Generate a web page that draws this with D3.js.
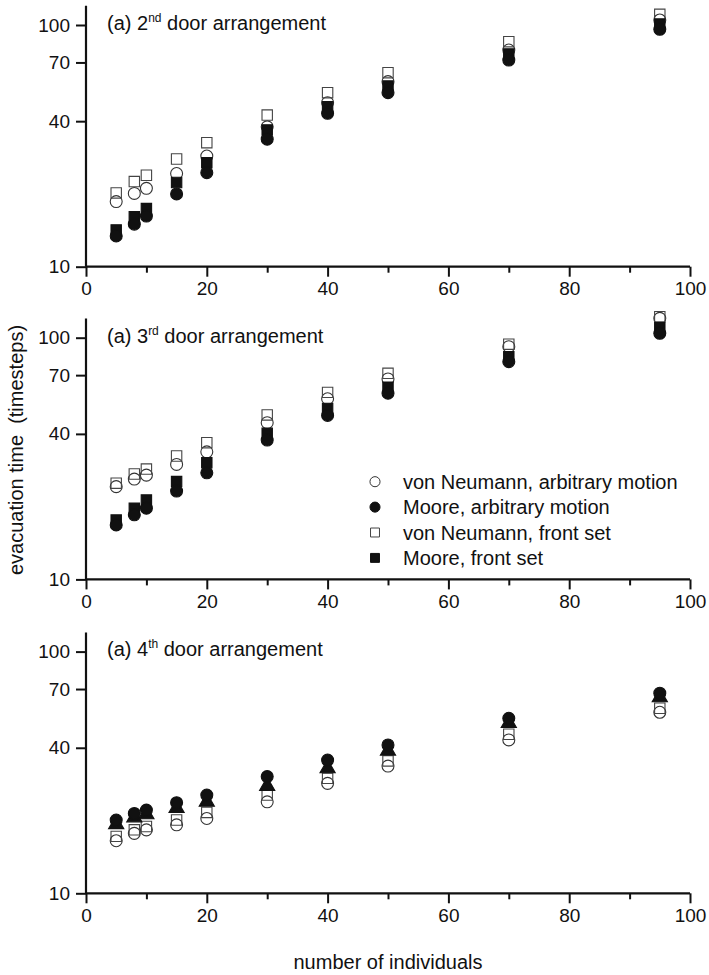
<!DOCTYPE html>
<html>
<head>
<meta charset="utf-8">
<script src="https://cdn.jsdelivr.net/npm/d3@7"></script>
<style>
  html, body { margin: 0; padding: 0; background: #fff; }
  svg text { font-family: "Liberation Sans", Arial, sans-serif; fill: #111; white-space: pre; }
</style>
</head>
<body>
<div id="chart"></div>
<script>
(function () {

  "use strict";

  // number of individuals (x positions, same for every panel)
  var nValues = [5, 8, 10, 15, 20, 30, 40, 50, 70, 95];

  // 2nd door arrangement
  var vnArb2 = [18.6, 20.1, 21.1, 24.3, 28.7, 37.9, 47.7, 58.3, 78.8, 104.9];
  var mooreArb2 = [13.4, 15.0, 16.2, 20.0, 24.5, 33.7, 43.1, 52.5, 71.6, 96.0];
  var vnFront2 = [20.2, 22.5, 23.9, 27.9, 32.6, 42.4, 52.5, 63.5, 85.3, 110.7];
  var mooreFront2 = [14.2, 16.1, 17.4, 22.3, 26.9, 36.8, 45.9, 55.9, 75.9, 100.9];

  // 3rd door arrangement
  var vnArb3 = [24.2, 26.0, 27.0, 29.9, 33.7, 44.5, 55.9, 67.5, 91.8, 120.3];
  var mooreArb3 = [16.8, 18.5, 19.7, 23.2, 27.6, 37.7, 47.7, 58.9, 79.6, 104.3];
  var vnFront3 = [25.0, 27.3, 28.6, 32.4, 36.8, 47.9, 59.4, 71.2, 94.0, 122.2];
  var mooreFront3 = [17.6, 19.7, 21.3, 25.4, 30.4, 40.2, 51.0, 62.4, 83.4, 110.0];

  // 4th door arrangement (filled triangles appear here instead of filled squares)
  var vnArb4 = [16.5, 17.7, 18.3, 19.2, 20.4, 23.9, 28.5, 33.6, 43.1, 56.1];
  var mooreArb4 = [20.1, 21.4, 22.1, 23.7, 25.5, 30.4, 35.6, 41.1, 53.0, 67.3];
  var vnFront4 = [17.2, 18.3, 18.9, 20.1, 21.6, 25.5, 29.9, 35.3, 45.5, 58.3];
  var triangle4 = [19.3, 20.6, 21.2, 22.5, 23.9, 27.8, 32.9, 38.9, 50.6, 64.7];

  var xTicks = [0, 20, 40, 60, 80, 100];
  var xMinorTicks = [10, 30, 50, 70, 90];
  var yTicks = [10, 40, 70, 100];

  var legendLabels = [
    "von Neumann, arbitrary motion",
    "Moore, arbitrary motion",
    "von Neumann, front set",
    "Moore, front set"
  ];

  var width = 709, height = 975;
  var left = 86, right = 690;
  var bottoms = [266.7, 579.4, 893.3];
  var decade = 241.7; // px per factor 10

  var marker = {
    openCircle: {type: d3.symbolCircle, size: 112, fill: "none", stroke: "#333"},
    fullCircle: {type: d3.symbolCircle, size: 112, fill: "#111", stroke: "#111"},
    openSquare: {type: d3.symbolSquare, size: 108, fill: "none", stroke: "#444"},
    fullSquare: {type: d3.symbolSquare, size: 108, fill: "#111", stroke: "#111"},
    fullTriangle: {type: d3.symbolTriangle, size: 100, fill: "#111", stroke: "#111"}
  };

  var panels = [
    {ordinal: "2", sup: "nd", series: [
      {values: vnArb2, m: marker.openCircle},
      {values: vnFront2, m: marker.openSquare},
      {values: mooreFront2, m: marker.fullSquare},
      {values: mooreArb2, m: marker.fullCircle}
    ]},
    {ordinal: "3", sup: "rd", legend: true, series: [
      {values: vnArb3, m: marker.openCircle},
      {values: vnFront3, m: marker.openSquare},
      {values: mooreFront3, m: marker.fullSquare},
      {values: mooreArb3, m: marker.fullCircle}
    ]},
    {ordinal: "4", sup: "th", series: [
      {values: vnArb4, m: marker.openCircle},
      {values: vnFront4, m: marker.openSquare},
      {values: triangle4, m: marker.fullTriangle},
      {values: mooreArb4, m: marker.fullCircle}
    ]}
  ];

  var svg = d3.select("#chart").append("svg")
    .attr("width", width)
    .attr("height", height);

  var x = d3.scaleLinear().domain([0, 100]).range([left, right]);

  panels.forEach(function (panel, i) {
    var bottom = bottoms[i];
    var y = d3.scaleLog().domain([10, 120])
      .range([bottom, bottom - decade * Math.log10(12)]);
    drawPanel(panel, x, y);
  });

  function drawPanel(panel, x, y) {
    var g = svg.append("g");
    var bottom = y.range()[0];

    // x axis, major and minor ticks
    var xAxis = g.append("g")
      .attr("transform", "translate(0," + bottom + ")")
      .call(d3.axisBottom(x).tickValues(xTicks).tickSize(10).tickPadding(5).tickFormat(d3.format("d")));
    g.append("g")
      .attr("transform", "translate(0," + bottom + ")")
      .call(d3.axisBottom(x).tickValues(xMinorTicks).tickSize(6).tickFormat(""))
      .select(".domain").remove();

    var yAxis = g.append("g")
      .attr("transform", "translate(" + left + ",0)")
      .call(d3.axisLeft(y).tickValues(yTicks).tickSize(10).tickPadding(6).tickFormat(d3.format("d")));

    [xAxis, yAxis].forEach(function (ax) {
      ax.select(".domain").attr("stroke", "#111").attr("stroke-width", 2.2);
      ax.selectAll(".tick line").attr("stroke", "#111").attr("stroke-width", 2);
      ax.selectAll(".tick text").attr("font-size", 19).attr("fill", "#111")
        .attr("font-family", "Liberation Sans, Arial, sans-serif");
    });
    g.selectAll(".tick line").attr("stroke", "#111").attr("stroke-width", 2);
    // straight axis ends, no outer ticks
    xAxis.select(".domain").attr("d", "M" + left + ",0H" + right);
    yAxis.select(".domain").attr("d", "M0," + y.range()[0] + "V" + y.range()[1]);

    // title
    var title = g.append("text")
      .attr("x", 107)
      .attr("y", y.range()[1] + 24)
      .attr("font-size", 20);
    title.append("tspan").text("(a) " + panel.ordinal);
    title.append("tspan").attr("font-size", 12).attr("dy", -8).text(panel.sup);
    title.append("tspan").attr("dy", 8).text(" door arrangement");

    // markers
    panel.series.forEach(function (s) {
      var sym = d3.symbol().type(s.m.type).size(s.m.size);
      g.append("g").selectAll("path")
        .data(s.values)
        .join("path")
        .attr("d", sym)
        .attr("transform", function (d, j) {
          return "translate(" + x(nValues[j]) + "," + y(d) + ")";
        })
        .attr("fill", s.m.fill)
        .attr("stroke", s.m.stroke)
        .attr("stroke-width", 1.1);
    });

    if (panel.legend) drawLegend(g);
  }

  function drawLegend(g) {
    var items = [
      {label: legendLabels[0], m: marker.openCircle},
      {label: legendLabels[1], m: marker.fullCircle},
      {label: legendLabels[2], m: marker.openSquare},
      {label: legendLabels[3], m: marker.fullSquare}
    ];
    var row = g.append("g").selectAll("g")
      .data(items)
      .join("g")
      .attr("transform", function (d, i) { return "translate(375," + (481.7 + i * 25.4) + ")"; });
    row.append("path")
      .attr("d", function (d) { return d3.symbol().type(d.m.type).size(80)(); })
      .attr("fill", function (d) { return d.m.fill; })
      .attr("stroke", function (d) { return d.m.stroke; })
      .attr("stroke-width", 1);
    row.append("text")
      .attr("x", 28)
      .attr("dy", "0.35em")
      .attr("font-size", 20)
      .text(function (d) { return d.label; });
  }

  // shared axis titles
  svg.append("text")
    .attr("transform", "translate(23,450) rotate(-90)")
    .attr("text-anchor", "middle")
    .attr("font-size", 20)
    .text("evacuation time  (timesteps)");

  svg.append("text")
    .attr("x", x(50))
    .attr("y", 969)
    .attr("text-anchor", "middle")
    .attr("font-size", 20)
    .text("number of individuals");

}());
</script>
</body>
</html>
